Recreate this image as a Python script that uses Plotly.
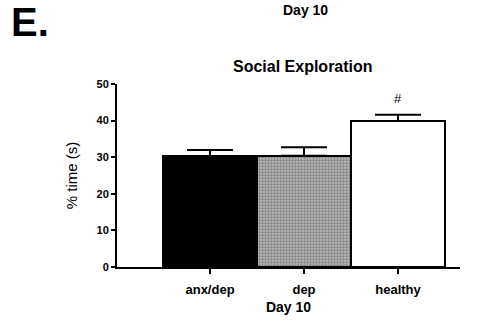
import plotly.graph_objects as go

categories = ["anx/dep", "dep", "healthy"]
values = [30.3, 30.4, 39.9]
errors = [1.7, 2.3, 1.7]
fill_colors = ["black", "#b8b8b8", "white"]
pattern_shapes = ["", ".", ""]
y_ticks = [0, 10, 20, 30, 40, 50]
sig_labels = ["", "", "#"]

FONT = "Arial, Liberation Sans, Helvetica, sans-serif"

W, H = 488, 329
PL, PR, PT, PB = 117, 460, 84.3, 266.7  # plot area in page pixels
L, T, R, B = PL, PT, W - PR, H - PB
pw, ph = PR - PL, PB - PT

def px(x):
    return (x - PL) / pw

def py(y):
    return (PB - y) / ph

fig = go.Figure()
fig.add_trace(go.Bar(
    x=categories,
    y=values,
    width=1.0,
    marker=dict(
        color=fill_colors,
        line=dict(color="black", width=2),
        pattern=dict(shape=pattern_shapes, fgcolor="black", bgcolor="#b8b8b8",
                     size=3, solidity=0.45, fillmode="overlay"),
    ),
    error_y=dict(type="data", array=errors, arrayminus=[0, 0, 0], symmetric=False,
                 color="black", thickness=2, width=23),
    showlegend=False,
    hoverinfo="skip",
))

annotations = []
for c, v, e, s in zip(categories, values, errors, sig_labels):
    if s:
        annotations.append(dict(x=c, y=v + e + 1.8, xref="x", yref="y", text=s,
                                showarrow=False, font=dict(size=13, color="black", family=FONT),
                                yanchor="bottom"))

annotations += [
    dict(x=px(9), y=py(22.5), xref="paper", yref="paper", text="<b>E.</b>",
         showarrow=False, xanchor="left", yanchor="middle",
         font=dict(size=40, color="black", family=FONT)),
    dict(x=px(305), y=py(10.5), xref="paper", yref="paper", text="<b>Day 10</b>",
         showarrow=False, xanchor="center", yanchor="middle",
         font=dict(size=14, color="black", family=FONT)),
    dict(x=px(302.5), y=py(67), xref="paper", yref="paper", text="<b>Social Exploration</b>",
         showarrow=False, xanchor="center", yanchor="middle",
         font=dict(size=16, color="black", family=FONT)),
]

fig.update_layout(
    width=W, height=H,
    margin=dict(l=L, r=R, t=T, b=B, pad=0),
    paper_bgcolor="white", plot_bgcolor="white",
    bargap=0,
    annotations=annotations,
    font=dict(family=FONT, color="black"),
    xaxis=dict(
        range=[-0.99, 2.66],
        showgrid=False, zeroline=False,
        showline=True, linecolor="black", linewidth=2,
        ticks="outside", ticklen=5, tickwidth=1.5, tickcolor="black",
        ticklabelstandoff=4,
        tickfont=dict(size=13, color="black", family=FONT),
        tickprefix="<b>", ticksuffix="</b>",
        title=dict(text="<b>Day 10</b>", font=dict(size=14, color="black", family=FONT), standoff=7),
    ),
    yaxis=dict(
        range=[0, 50],
        tickvals=y_ticks,
        ticktext=[f"<b>{t}</b>" for t in y_ticks],
        showgrid=False, zeroline=False,
        showline=True, linecolor="black", linewidth=2,
        ticks="outside", ticklen=4, tickwidth=1.5, tickcolor="black",
        tickfont=dict(size=11, color="black", family=FONT),
        title=dict(text="% time (s)", font=dict(size=15, color="black", family=FONT), standoff=15),
    ),
)

fig.write_html("out.html", config={"displayModeBar": False},
               post_script="document.body.style.margin='0';")
